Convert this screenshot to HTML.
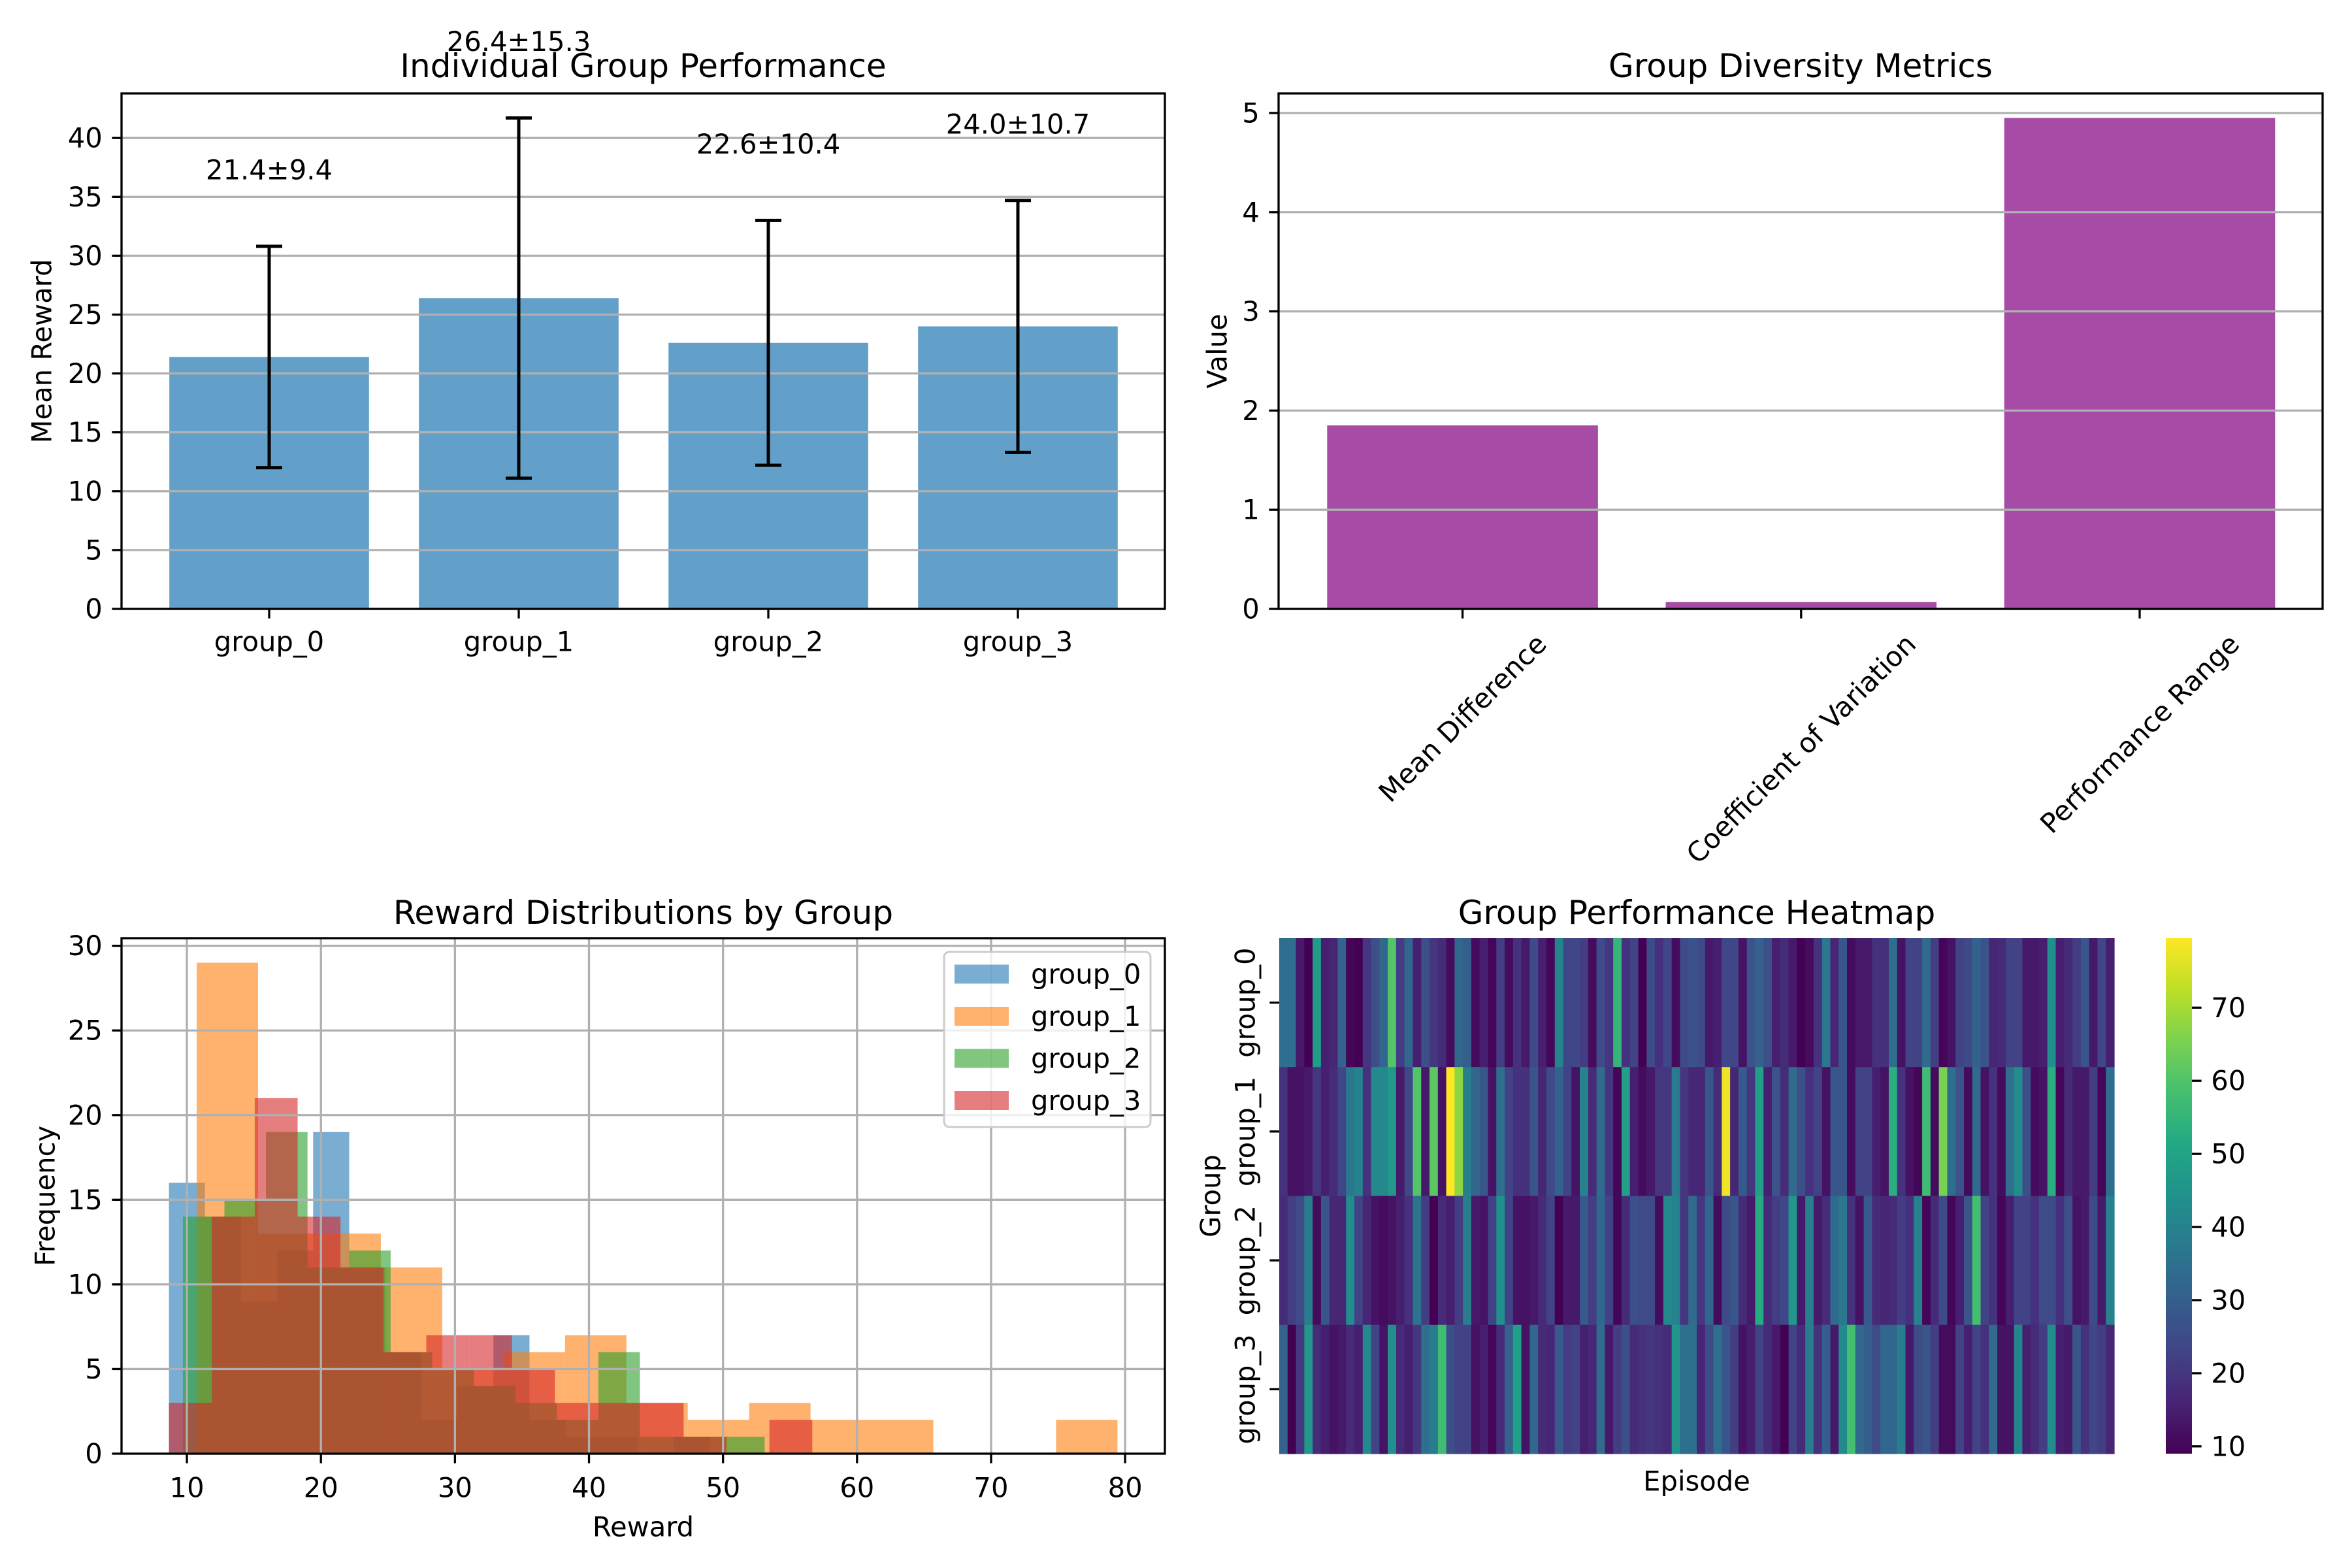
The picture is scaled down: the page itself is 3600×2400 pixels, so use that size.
<!DOCTYPE html>
<html><head><meta charset="utf-8"><style>
html,body{margin:0;padding:0;background:#fff;}
svg{display:block;font-family:"DejaVu Sans","Liberation Sans",sans-serif;}
</style></head><body>
<svg id="chart" width="3600" height="2400" viewBox="0 0 3600 2400" xmlns="http://www.w3.org/2000/svg">
<defs>
<linearGradient id="viridisGrad" x1="0" y1="1" x2="0" y2="0">
<stop offset="0" stop-color="#440154"/><stop offset="0.1" stop-color="#482475"/><stop offset="0.2" stop-color="#414487"/><stop offset="0.3" stop-color="#355f8d"/><stop offset="0.4" stop-color="#2a788e"/><stop offset="0.5" stop-color="#21918c"/><stop offset="0.6" stop-color="#22a884"/><stop offset="0.7" stop-color="#44bf70"/><stop offset="0.8" stop-color="#7ad151"/><stop offset="0.9" stop-color="#bddf26"/><stop offset="1" stop-color="#fde725"/>
</linearGradient>
</defs>
</svg>
<script>
// ---------- data ----------
const groupNames = ['group_0','group_1','group_2','group_3'];
const groupMeans = [21.4, 26.4, 22.6, 24.0];
const groupStds = [9.4, 15.3, 10.4, 10.7];
const perfTicks = [0,5,10,15,20,25,30,35,40];

const metricNames = ['Mean Difference','Coefficient of Variation','Performance Range'];
const metricValues = [1.85, 0.07, 4.95];
const metricTicks = [0,1,2,3,4,5];

const histStarts = [8.66, 10.73, 9.7, 8.66];
const histWidths = [2.69, 4.58, 3.1, 3.2];
const histCounts0 = [16,14,9,12,19,11,6,2,4,7,2,1,1,0,1];
const histCounts1 = [29,13,13,11,5,6,7,3,2,3,2,2,0,0,2];
const histCounts2 = [14,15,19,11,12,6,5,4,3,2,6,1,1,1,0];
const histCounts3 = [3,14,21,14,11,6,7,7,5,3,3,3,1,0,2];
const histXTicks = [10,20,30,40,50,60,70,80];
const histYTicks = [0,5,10,15,20,25,30];

const heatRow0 = [34.5,34.5,13.8,9,47.6,15.1,16.4,31.1,9.9,9,20.2,25.9,32.3,60.3,21.5,32.3,15.1,25.9,20.2,17.7,11.2,32.3,29.9,11.2,15.1,9.9,21.5,11.2,19,13.8,24.8,15.1,9.9,40,23.8,23.8,21.5,11.2,24.8,20.2,55.2,19,22.8,9,24.8,19,23.8,11.2,24.8,26.9,24.8,
13.8,15.1,23.8,23.8,12.5,26.9,31.1,25.9,15.1,17.7,13.8,9,11.2,19,37,16.4,27.9,11.2,13.8,13.8,19,19,34.6,12.5,22.8,22.8,33.4,21.5,9.9,12.5,22.8,24.8,31.1,26.9,16.4,17.7,22.8,22.8,13.8,13.8,15.1,44.1,15.1,17.7,21.5,27.9,13.8,23.8,15.1];
const heatRow1 = [19,12.5,12.5,13.8,20.2,15.1,17.7,23.8,37,40,19,42.1,42.1,46.5,13.8,23.8,60.3,13.8,61.3,12.5,79.5,67.5,39,32.3,27.9,12.5,34.6,22.8,19,19,27.9,16.4,24.8,31.1,22.8,12.5,40,17.7,33.4,20.2,9.9,48.8,15.1,11.2,13.8,20.2,20.2,38,20.2,16.4,16.4,
27.9,17.7,78,16.4,28.9,20.2,48.8,15.1,26.9,17.7,33.4,25.9,19,22.8,12.5,27.9,27.9,11.2,22.8,22.8,15.1,12.5,53.2,19,12.5,9.9,57.3,11.2,65.3,34.6,26.9,11.2,33.4,12.5,19,11.2,34.6,43.1,25.9,11.2,12.5,53.2,9.9,17.7,13.8,13.8,21.5,9.9,34.6];
const heatRow2 = [17.7,21.5,24.8,39,11.2,27.9,16.4,16.4,43.1,22.8,16.4,12.5,11.2,12.5,15.1,19,35.8,21.5,9,17.7,15.1,21.5,39,13.8,12.5,22.8,44.1,22.8,12.5,12.5,13.8,17.7,22.8,9,13.8,13.8,28.9,21.5,32.3,22.8,9.9,17.7,25.9,24.8,24.8,11.2,42.1,40,20.2,33.4,20.2,
32.3,11.2,24.8,27.9,17.7,13.8,52.2,17.7,21.5,23.8,46.5,13.8,39,13.8,17.7,33.4,37,19,12.5,28.9,17.7,16.4,17.7,21.5,19,40,9.9,17.7,24.8,9.9,15.1,27.9,58.3,22.8,19,9.9,15.1,22.8,22.8,19,24.8,24.8,19,25.9,12.5,13.8,24.8,13.8,40];
const heatRow3 = [31.1,9,20.2,46.5,17.7,15.1,12.5,13.8,17.7,15.1,42.1,22.8,12.5,44.1,17.7,15.1,20.2,34.6,38,57.3,25.9,22.8,22.8,12.5,15.1,9.9,17.7,31.1,48.8,12.5,32.3,17.7,16.4,28.9,21.5,22.8,15.1,16.4,33.4,13.8,21.5,25.9,17.7,19,20.2,19,17.7,45.3,34.6,34.6,16.4,
24.8,34.6,27.9,21.5,12.5,15.1,22.8,17.7,13.8,9,22.8,17.7,39,19,29.9,13.8,42.1,58.3,33.4,29.9,24.8,32.3,32.3,39,13.8,24.8,27.9,21.5,11.2,11.2,22.8,15.1,22.8,19,33.4,12.5,12.5,41,15.1,17.7,21.5,43.1,15.1,13.8,27.9,19,23.8,21.5,16.4];
const cbarTicks = [10,20,30,40,50,60,70];

// ---------- helpers ----------
const NS = 'http://www.w3.org/2000/svg';
const svg = document.getElementById('chart');
function mk(tag, attrs, parent) {
  const e = document.createElementNS(NS, tag);
  for (const k in attrs) e.setAttribute(k, attrs[k]);
  (parent || svg).appendChild(e);
  return e;
}
function grp(parent) { return mk('g', {}, parent); }
function txt(parent, x, y, s, size, anchor, extra) {
  const a = {x: x, y: y, 'font-size': size, 'text-anchor': anchor || 'middle', 'dominant-baseline': 'central', fill: '#000'};
  if (extra) for (const k in extra) a[k] = extra[k];
  const t = mk('text', a, parent);
  t.textContent = s;
  return t;
}
function lin(d0, d1, r0, r1) { return v => r0 + (v - d0) / (d1 - d0) * (r1 - r0); }
const GRID = '#b0b0b0', GW = 3.3, TL = 14.6, PAD = 14.6, FS = 41.7, TFS = 50;

const vstops = ['#440154','#482475','#414487','#355f8d','#2a788e','#21918c','#22a884','#44bf70','#7ad151','#bddf26','#fde725'];
function hex2rgb(h){return [parseInt(h.substr(1,2),16),parseInt(h.substr(3,2),16),parseInt(h.substr(5,2),16)];}
function viridis(f) {
  f = Math.max(0, Math.min(1, f));
  const p = f * 10, i = Math.min(9, Math.floor(p)), t = p - i;
  const a = hex2rgb(vstops[i]), b = hex2rgb(vstops[i+1]);
  return 'rgb(' + a.map((c, k) => Math.round(c + (b[k] - c) * t)).join(',') + ')';
}

// ================= Panel 1: Individual Group Performance =================
(function(){
  const L=186,R=1783,T=143,B=932;
  const x = lin(0, 1, 412, 794);
  const yMax = Math.max(...groupMeans.map((m,i)=>m+groupStds[i]))*1.05;
  const y = lin(0, yMax, B, T);
  const g = grp();
  
  
  const bw = 0.8*(x(1)-x(0));
  groupMeans.forEach((m, i) => {
    const r = mk('rect', {x: x(i)-bw/2, y: y(m), width: bw, height: B-y(m), fill: '#1f77b4', 'fill-opacity': 0.7}, g);
    
    
  });
  perfTicks.forEach(v => {
    const l = mk('line', {x1: L, x2: R, y1: y(v), y2: y(v), stroke: GRID, 'stroke-width': GW}, g);
    
    
  });
  groupMeans.forEach((m, i) => {
    const e = grp(g);
    
    
    const lo = y(m - groupStds[i]), hi = y(m + groupStds[i]);
    mk('line', {x1: x(i), x2: x(i), y1: lo, y2: hi, stroke: '#000', 'stroke-width': 5}, e);
    mk('line', {x1: x(i)-20, x2: x(i)+20, y1: lo, y2: lo, stroke: '#000', 'stroke-width': 5}, e);
    mk('line', {x1: x(i)-20, x2: x(i)+20, y1: hi, y2: hi, stroke: '#000', 'stroke-width': 5}, e);
    const t = txt(g, x(i), y(m + groupStds[i] + 5.6) - 16, m.toFixed(1) + '±' + groupStds[i].toFixed(1), FS);
    
    
  });
  const fr = mk('rect', {x: L, y: T, width: R-L, height: B-T, fill: 'none', stroke: '#000', 'stroke-width': GW}, g);
  
  
  perfTicks.forEach(v => {
    mk('line', {x1: L-TL, x2: L, y1: y(v), y2: y(v), stroke: '#000', 'stroke-width': GW}, g);
    const t = txt(g, L-TL-PAD, y(v), String(v), FS, 'end');
    
    
  });
  groupNames.forEach((n, i) => {
    mk('line', {x1: x(i), x2: x(i), y1: B, y2: B+TL, stroke: '#000', 'stroke-width': GW}, g);
    const t = txt(g, x(i), 982, n, FS);
    
    
  });
  const yl = txt(g, 64, (T+B)/2, 'Mean Reward', FS, 'middle', {transform: 'rotate(-90 64 ' + (T+B)/2 + ')'});
  
  
  const ti = txt(g, (L+R)/2, 101, 'Individual Group Performance', TFS);
  
  
})();

// ================= Panel 2: Group Diversity Metrics =================
(function(){
  const L=1957,R=3555,T=143,B=932;
  const x = lin(0, 1, 2238.6, 2756.8);
  const y = lin(0, Math.max(...metricValues)*1.05, B, T);
  const g = grp();
  
  
  const bw = 0.8*(x(1)-x(0));
  metricValues.forEach((v, i) => {
    const r = mk('rect', {x: x(i)-bw/2, y: y(v), width: bw, height: B-y(v), fill: '#800080', 'fill-opacity': 0.7}, g);
    
    
  });
  metricTicks.forEach(v => {
    const l = mk('line', {x1: L, x2: R, y1: y(v), y2: y(v), stroke: GRID, 'stroke-width': GW}, g);
    
    
  });
  const fr = mk('rect', {x: L, y: T, width: R-L, height: B-T, fill: 'none', stroke: '#000', 'stroke-width': GW}, g);
  
  
  metricTicks.forEach(v => {
    mk('line', {x1: L-TL, x2: L, y1: y(v), y2: y(v), stroke: '#000', 'stroke-width': GW}, g);
    const t = txt(g, L-TL-PAD, y(v), String(v), FS, 'end');
    
    
  });
  metricNames.forEach((n, i) => {
    mk('line', {x1: x(i), x2: x(i), y1: B, y2: B+TL, stroke: '#000', 'stroke-width': GW}, g);
    const t = txt(g, x(i), 1000, n, FS);
    
    
    const w = t.getComputedTextLength ? t.getComputedTextLength() : n.length*24;
    const cy = B + TL + PAD + (w + 48) * 0.7071 / 2;
    t.setAttribute('y', cy);
    t.setAttribute('transform', 'rotate(-45 ' + x(i) + ' ' + cy + ')');
  });
  const yl = txt(g, 1863, (T+B)/2, 'Value', FS, 'middle', {transform: 'rotate(-90 1863 ' + (T+B)/2 + ')'});
  
  
  const ti = txt(g, (L+R)/2, 101, 'Group Diversity Metrics', TFS);
  
  
})();

// ================= Panel 3: Reward Distributions =================
(function(){
  const L=186,R=1783,T=1436,B=2225;
  const all = [histCounts0, histCounts1, histCounts2, histCounts3];
  const colors = ['#1f77b4','#ff7f0e','#2ca02c','#d62728'];
  let lo = Infinity, hi = -Infinity, cmax = 0;
  all.forEach((c, k) => { lo = Math.min(lo, histStarts[k]); hi = Math.max(hi, histStarts[k] + histWidths[k]*c.length); cmax = Math.max(cmax, ...c); });
  const pad = (hi - lo) * 0.05;
  const x = lin(lo - pad, hi + pad, L, R);
  const y = lin(0, cmax*1.05, B, T);
  const g = grp();
  
  
  all.forEach((c, k) => {
    const s = grp(g);
    
    
    c.forEach((n, j) => {
      if (!n) return;
      const x0 = x(histStarts[k] + j*histWidths[k]), x1 = x(histStarts[k] + (j+1)*histWidths[k]);
      const r = mk('rect', {x: x0, y: y(n), width: x1-x0, height: B-y(n), fill: colors[k], 'fill-opacity': 0.6}, s);
      
      
    });
  });
  histXTicks.forEach(v => {
    const l = mk('line', {x1: x(v), x2: x(v), y1: T, y2: B, stroke: GRID, 'stroke-width': GW}, g);
    
    
  });
  histYTicks.forEach(v => {
    const l = mk('line', {x1: L, x2: R, y1: y(v), y2: y(v), stroke: GRID, 'stroke-width': GW}, g);
    
    
  });
  const fr = mk('rect', {x: L, y: T, width: R-L, height: B-T, fill: 'none', stroke: '#000', 'stroke-width': GW}, g);
  
  
  histYTicks.forEach(v => {
    mk('line', {x1: L-TL, x2: L, y1: y(v), y2: y(v), stroke: '#000', 'stroke-width': GW}, g);
    const t = txt(g, L-TL-PAD, y(v), String(v), FS, 'end');
    
    
  });
  histXTicks.forEach(v => {
    mk('line', {x1: x(v), x2: x(v), y1: B, y2: B+TL, stroke: '#000', 'stroke-width': GW}, g);
    const t = txt(g, x(v), 2277, String(v), FS);
    
    
  });
  const xl = txt(g, (L+R)/2, 2337, 'Reward', FS);
  
  
  const yl = txt(g, 69, (T+B)/2, 'Frequency', FS, 'middle', {transform: 'rotate(-90 69 ' + (T+B)/2 + ')'});
  
  
  const ti = txt(g, (L+R)/2, 1397, 'Reward Distributions by Group', TFS);
  
  
  const lg = grp(g);
  
  
  mk('rect', {x: 1445, y: 1457, width: 316, height: 268, rx: 8, fill: '#fff', 'fill-opacity': 0.8, stroke: '#cccccc', 'stroke-width': 3}, lg);
  groupNames.forEach((n, k) => {
    const cy = 1491 + k*64.5;
    const e = grp(lg);
    
    
    mk('rect', {x: 1461, y: cy-14.5, width: 83, height: 29, fill: colors[k], 'fill-opacity': 0.6}, e);
    txt(e, 1578, cy, n, FS, 'start');
  });
})();

// ================= Panel 4: Heatmap =================
(function(){
  const L=1958,R=3236,T=1436,B=2225;
  const rows = [heatRow0, heatRow1, heatRow2, heatRow3];
  let vmin = Infinity, vmax = -Infinity;
  rows.forEach(r => r.forEach(v => { vmin = Math.min(vmin, v); vmax = Math.max(vmax, v); }));
  const n = rows[0].length;
  const x = lin(0, n, L, R);
  const y = lin(0, rows.length, T, B);
  const g = grp();
  
  
  rows.forEach((r, i) => {
    const rg = grp(g);
    
    
    r.forEach((v, j) => {
      const c = mk('rect', {x: x(j), y: y(i), width: x(j+1)-x(j)+0.6, height: y(i+1)-y(i)+0.6, fill: viridis((v - vmin)/(vmax - vmin))}, rg);
      
      
    });
  });
  groupNames.forEach((nm, i) => {
    const cy = (y(i) + y(i+1))/2;
    mk('line', {x1: L-TL, x2: L, y1: cy, y2: cy, stroke: '#000', 'stroke-width': GW}, g);
    const t = txt(g, 1906, cy, nm, FS, 'middle', {transform: 'rotate(-90 1906 ' + cy + ')'});
    
    
  });
  const yl = txt(g, 1853, (T+B)/2, 'Group', FS, 'middle', {transform: 'rotate(-90 1853 ' + (T+B)/2 + ')'});
  
  
  const xl = txt(g, (L+R)/2, 2267, 'Episode', FS);
  
  
  const ti = txt(g, (L+R)/2, 1397, 'Group Performance Heatmap', TFS);
  
  
  // colorbar
  const cb = grp(g);
  
  
  const cL = 3315, cR = 3355;
  const cy = lin(vmin, vmax, B, T);
  mk('rect', {x: cL, y: T, width: cR-cL, height: B-T, fill: 'url(#viridisGrad)'}, cb);
  cbarTicks.forEach(v => {
    if (v < vmin || v > vmax) return;
    mk('line', {x1: cR, x2: cR+TL, y1: cy(v), y2: cy(v), stroke: '#000', 'stroke-width': GW}, cb);
    const t = txt(cb, cR+TL+PAD, cy(v), String(v), FS, 'start');
    
    
  });
})();
</script>
</body></html>
